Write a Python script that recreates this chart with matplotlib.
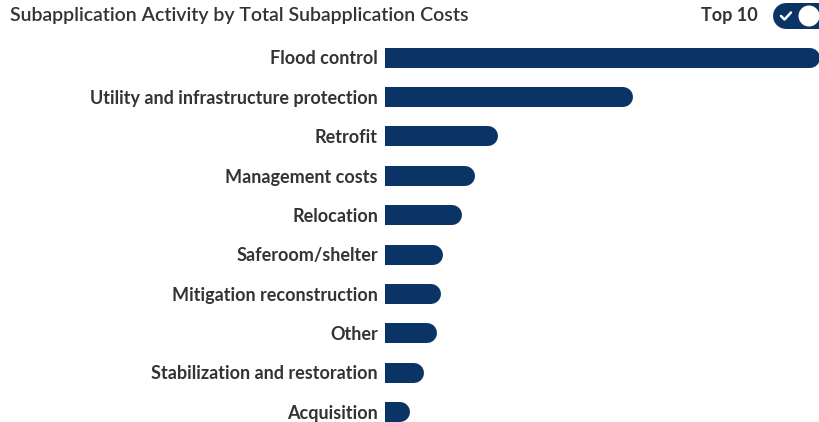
import matplotlib
matplotlib.use("Agg")
import matplotlib.pyplot as plt
from matplotlib.patches import Ellipse
from matplotlib.lines import Line2D

categories = ["Flood control", "Utility and infrastructure protection", "Retrofit",
              "Management costs", "Relocation", "Saferoom/shelter",
              "Mitigation reconstruction", "Other", "Stabilization and restoration",
              "Acquisition"]
values = [435, 248, 113, 90, 77, 58, 56, 52, 39, 25]
title = "Subapplication Activity by Total Subapplication Costs"
toggle_label = "Top 10"

NAVY = "#0b3466"
TXT = "#333333"
FONT = ["Lato", "DejaVu Sans"]

W, H = 820, 422
fig = plt.figure(figsize=(W / 100, H / 100), dpi=100)
fig.patch.set_facecolor("white")

ax_left, ax_right = 385 / W, 1.0
ax_top, ax_bot = 38 / H, 422 / H
ax = fig.add_axes([ax_left, 1 - ax_bot, ax_right - ax_left, ax_bot - ax_top])
xmax = max(values)
ax.set_xlim(0, xmax)
ax.set_ylim(9.25, -0.5)
ax.axis("off")

ax_w_px = (ax_right - ax_left) * W
bar_px = 20
r_data = (bar_px / 2) / ax_w_px * xmax
lw_pt = bar_px * 72 / 100

for i, (c, v) in enumerate(zip(categories, values)):
    ax.plot([0, v - r_data], [i, i], color=NAVY, lw=lw_pt,
            solid_capstyle="round", clip_on=True)
    ax.text(-7 / ax_w_px * xmax, i + 0.03, c, ha="right", va="center",
            fontsize=13, fontweight="bold", color=TXT, family=FONT,
            clip_on=False)

fig.text(10 / W, 1 - 16 / H, title, ha="left", va="center",
         fontsize=14, fontweight="semibold", color=TXT, family=FONT)
fig.text(758 / W, 1 - 16 / H, toggle_label, ha="right", va="center",
         fontsize=13, fontweight="bold", color=TXT, family=FONT)

# toggle switch: pill drawn as round-capped thick line
pill_px = 26
fig.lines.append(Line2D([786 / W, 830 / W], [1 - 16 / H, 1 - 16 / H],
                        transform=fig.transFigure, color=NAVY,
                        lw=pill_px * 72 / 100, solid_capstyle="round",
                        zorder=2))
fig.patches.append(Ellipse((809 / W, 1 - 16 / H), 21 / W, 21 / H,
                           transform=fig.transFigure, facecolor="white",
                           edgecolor="none", zorder=3))
fig.lines.append(Line2D([781 / W, 784.5 / W, 791 / W],
                        [1 - 16 / H, 1 - 19.5 / H, 1 - 12.5 / H],
                        transform=fig.transFigure, color="white", lw=1.8,
                        solid_capstyle="round", solid_joinstyle="round",
                        zorder=4))

fig.savefig("out.png", dpi=100, facecolor="white")
